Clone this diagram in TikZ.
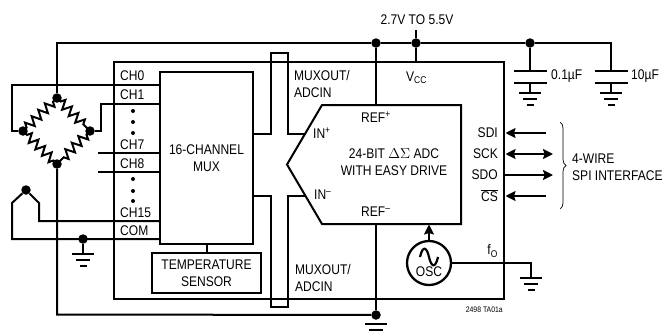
\documentclass[tikz,border=0pt]{standalone}
\usepackage{fontspec}
\setmainfont[FakeStretch=0.86]{Liberation Sans}
\usetikzlibrary{arrows.meta}
\usetikzlibrary{decorations.pathmorphing}
\usetikzlibrary{decorations.pathreplacing}
\tikzset{
    wire/.style={line width=2pt, line join=miter},
    box/.style={draw, rectangle, line width=2.3pt, inner sep=0pt, align=center},
    dot/.style={circle, fill, inner sep=0pt, minimum size=9.5pt},
    tiny dot/.style={circle, fill, inner sep=0pt, minimum size=4pt},
    txt/.style={inner sep=0pt, align=left, anchor=west},
    rtxt/.style={inner sep=0pt, anchor=east},
    ctxt/.style={inner sep=0pt, align=center},
    res/.style={wire, decorate, decoration={zigzag, amplitude=4.6pt, segment length=9.2pt, pre length=5pt, post length=5pt}},
    sig/.style={wire, -{Stealth[length=10pt, width=10pt, inset=1.5pt]}},
    sigboth/.style={wire, {Stealth[length=10pt, width=10pt, inset=1.5pt]}-{Stealth[length=10pt, width=10pt, inset=1.5pt]}},
    pics/gnd/.style={code={
        \draw[line width=2pt] (-11,0) -- (11,0);
        \draw[line width=2pt] (-7,6) -- (7,6);
        \draw[line width=2pt] (-3.5,12) -- (3.5,12);
    }},
    pics/capplates/.style={code={
        \draw[line width=2pt] (-16.5,0) -- (16.5,0);
        \draw[line width=2pt] (-16.5,12) -- (16.5,12);
    }},
}
\begin{document}
\begin{tikzpicture}[x=1pt, y=-1pt, font=\fontsize{14}{17}\selectfont]
    \useasboundingbox (0,0) rectangle (663,332);
    \node[box, line width=1.6pt, minimum width=390pt, minimum height=237pt] (chip) at (309,180.5) {};
    \node[box, fill=white, minimum width=93pt, minimum height=172pt] (mux) at (206.5,158) {16-CHANNEL\\MUX};
    \node[box, minimum width=109pt, minimum height=40pt] (tempsens) at (206.5,273) {TEMPERATURE\\SENSOR};
    \node[draw, circle, line width=2.3pt, inner sep=0pt, minimum size=44pt] (osc) at (429,263) {};

    \node[dot] (brtop) at (57,98) {};
    \node[dot] (brleft) at (23,131) {};
    \node[dot] (brright) at (90,131) {};
    \node[dot] (brbot) at (57,164) {};
    \node[dot] (tctip) at (26,190) {};
    \node[dot] (comgnd) at (83,239) {};
    \node[dot] (refnode) at (376,43) {};
    \node[dot] (vccnode) at (416,43) {};
    \node[dot] (capnode) at (530,43) {};
    \node[dot] (refgnd) at (376,315) {};

    \coordinate (ch0) at (160,85);
    \coordinate (ch1) at (160,104);
    \coordinate (ch7) at (160,153);
    \coordinate (ch8) at (160,172);
    \coordinate (ch15) at (160,221);
    \coordinate (com) at (160,239);
    \coordinate (muxup) at (253,134);
    \coordinate (muxdn) at (253,196);
    \coordinate (inp) at (305,134);
    \coordinate (inm) at (305,196);
    \coordinate (adctl) at (322,105);
    \coordinate (adctr) at (461,105);
    \coordinate (adcbr) at (461,224);
    \coordinate (adcbl) at (322,224);
    \coordinate (adctip) at (287,164.5);
    \coordinate (captwo) at (611,70);
    \coordinate (foend) at (531,263);

    \draw[wire] (adctl) -- (adctr) -- (adcbr) -- (adcbl) -- (adctip) -- cycle;

    \draw[res] (brtop.center) -- (brright.center);
    \draw[res] (brright.center) -- (brbot.center);
    \draw[res] (brbot.center) -- (brleft.center);
    \draw[res] (brleft.center) -- (brtop.center);

    \draw[wire] (brtop) -- (57,43) -- (refnode) -- (vccnode) -- (capnode) -- (611,43) -- (captwo);
    \draw[wire] (ch0) -- (12,85) -- (12,131) -- (brleft);
    \draw[wire] (ch1) -- (101,104) -- (101,131) -- (brright);
    \draw[wire] (ch7) -- (98,153);
    \draw[wire] (ch8) -- (98,172);
    \draw[wire] (brbot) -- (57,314.5) -- (refgnd);
    \draw[wire] (ch15) -- (39,221) -- (39,203) -- (tctip) -- (12,203) -- (12,239) -- (com);
    \draw[wire] (mux.south) -- (tempsens.north);
    \draw[wire] (muxup) -- (271,134) -- (271,52.5) -- (288,52.5) -- (288,134) -- (inp);
    \draw[wire] (muxdn) -- (271,196) -- (271,307) -- (288,307) -- (288,196) -- (inm);
    \draw[wire] (refnode) -- (376,105);
    \draw[wire] (refgnd) -- (376,224);
    \draw[wire] (vccnode) -- (416,30);
    \draw[wire] (vccnode) -- (416,62);
    \draw[wire] (comgnd) -- (83,254);
    \draw[wire] (capnode) -- (530,71);
    \draw[wire] (530,82) -- (530,93);
    \draw[wire] (611,82) -- (611,93);
    \draw[wire] (osc.east) -- (foend) -- (531,278);
    \draw[sig] (osc.north) -- (429,224.5);
    \draw[sig] (546,133) -- (505.5,133);
    \draw[sigboth] (505.5,154) -- (553,154);
    \draw[sig] (504,175) -- (553,175);
    \draw[sig] (546,196) -- (505.5,196);
    \draw[line width=0.7pt, decorate, decoration={brace, amplitude=6pt}] (560,122) -- (560,209);

    \pic at (83,254) {gnd};
    \pic at (530,93) {gnd};
    \pic at (611,93) {gnd};
    \pic at (531,278) {gnd};
    \pic at (376,324) {gnd};
    \pic at (530,70.5) {capplates};
    \pic at (611,70.5) {capplates};

    \node[txt] (lch0) at (120,76) {CH0};
    \node[txt] (lch1) at (120,95) {CH1};
    \node[txt] (lch7) at (120,145) {CH7};
    \node[txt] (lch8) at (120,164) {CH8};
    \node[txt] (lch15) at (120,213) {CH15};
    \node[txt] (lcom) at (120,231) {COM};
    \foreach \y in {111,122,133,179,191,201} {
        \node[tiny dot] at (133,\y) {};
    }

    \node[ctxt] (supply) at (417,20) {2.7V TO 5.5V};
    \node[txt] (vcc) at (406,78) {V\textsubscript{CC}};
    \node[txt] (muxtop) at (294,84) {MUXOUT/\\ADCIN};
    \node[txt] (muxbot) at (295,278) {MUXOUT/\\ADCIN};
    \node[txt] (refp) at (361,117) {REF\textsuperscript{+}};
    \node[txt] (refm) at (361,212) {REF\textsuperscript{--}};
    \node[txt] (inplus) at (313,133) {IN\textsuperscript{+}};
    \node[txt] (inminus) at (314,195) {IN\textsuperscript{--}};
    \node[ctxt] (adc) at (394,162.5) {24-BIT $\Delta\Sigma$ ADC\\WITH EASY DRIVE};
    \node[rtxt] (sdi) at (498,133) {SDI};
    \node[rtxt] (sck) at (498,154) {SCK};
    \node[rtxt] (sdo) at (498,175) {SDO};
    \node[rtxt] (cs) at (498,196) {$\overline{\mbox{CS}}$};
    \node[rtxt] (fo) at (498,251) {f\textsubscript{O}};
    \node[ctxt, font=\fontsize{14}{14}\selectfont] (osclab) at (429,272) {OSC};
    \draw[line width=2.2pt] (420,257) .. controls (423,244) and (427,248) .. (429,257) .. controls (431,266) and (435,270) .. (438,257);
    \node[txt] (spi) at (572,167.5) {4-WIRE\\SPI INTERFACE};
    \node[txt] (cone) at (551,76) {0.1µF};
    \node[txt] (ctwo) at (631,76) {10µF};
    \node[rtxt, font=\fontsize{8}{9}\selectfont] (partno) at (503,310) {2498 TA01a};
\end{tikzpicture}
\end{document}
